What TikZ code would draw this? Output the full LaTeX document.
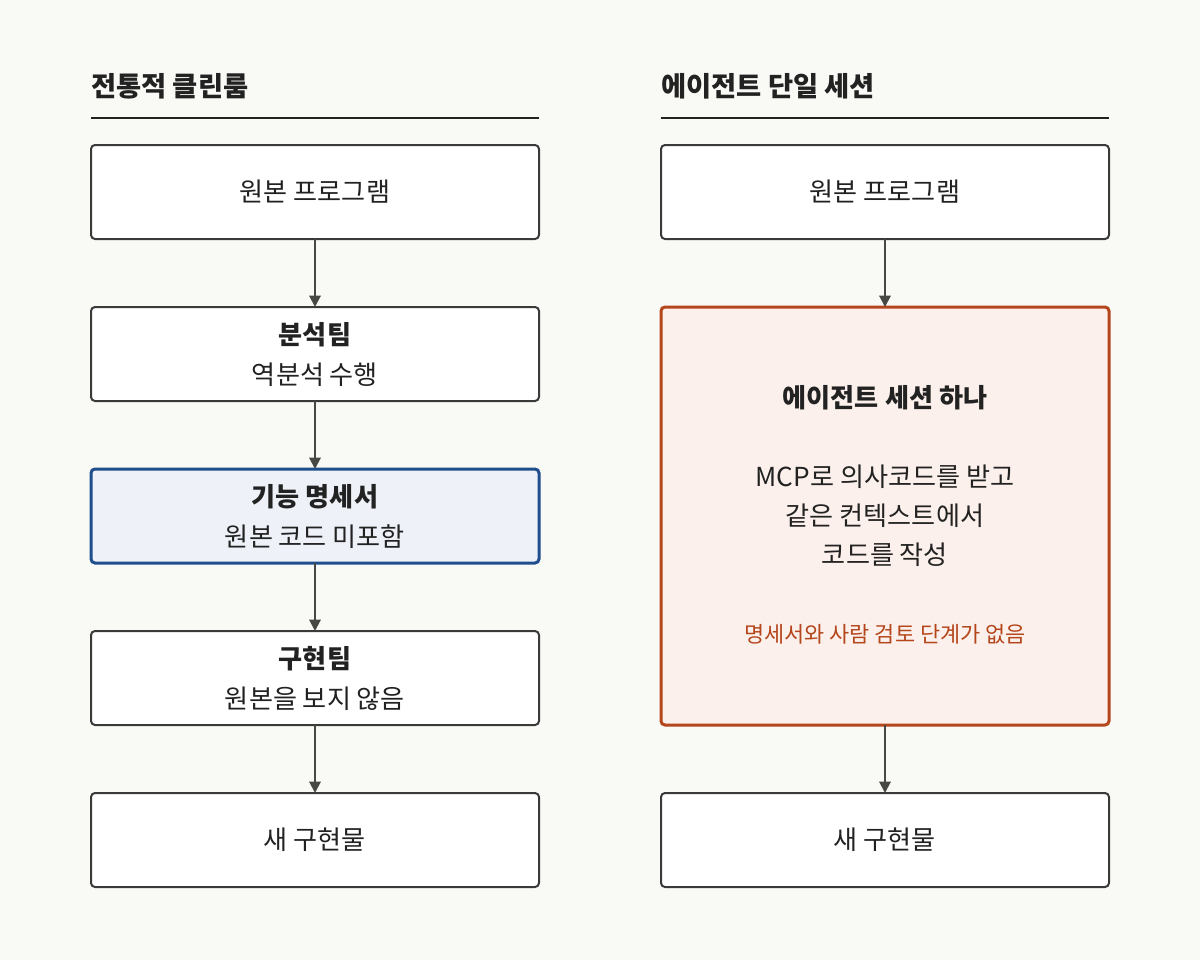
\documentclass[tikz,border=0pt]{standalone}
\usepackage{fontspec}
\setmainfont{Noto Sans CJK KR}
\usepackage{tikz}
\usetikzlibrary{arrows.meta,positioning,calc}
\usepackage{xcolor}
\definecolor{pagebg}{HTML}{F9F9F5}
\definecolor{inkdark}{HTML}{222222}
\definecolor{boxline}{HTML}{3A3A3A}
\definecolor{arrowgray}{HTML}{474744}
\definecolor{specblue}{HTML}{1F4E8C}
\definecolor{specfill}{HTML}{EEF2F8}
\definecolor{agentrust}{HTML}{B5451B}
\definecolor{agentfill}{HTML}{FBF0EB}

\begin{document}
\begin{tikzpicture}[
  x=0.75pt, y=-0.75pt,
  >={Triangle[length=8.5pt,width=8.5pt]},
  node distance=51pt,
  stage/.style={
    draw=boxline,
    fill=white,
    rounded corners=3pt,
    line width=1.5pt,
    minimum width=336pt,
    minimum height=70.5pt,
    inner sep=0pt,
    outer sep=0pt,
    align=center,
    text=inkdark,
    font=\fontsize{19.6}{30}\selectfont
  },
  accent/.style={line width=2.25pt},
  coltitle/.style={anchor=base west, inner sep=0pt, text=inkdark, font=\fontsize{20.5}{24}\selectfont\bfseries},
  flow/.style={->, line width=1.5pt, arrowgray}
]

  % page background
  \fill[pagebg] (0,0) rectangle (1200,960);

  % --- Column headers ---
  \node[coltitle] (ltitle) at (91,96) {전통적 클린룸};
  \node[coltitle] (rtitle) at (661,96) {에이전트 단일 세션};
  \draw[line width=1.5pt, inkdark] (91,118) -- (539,118);
  \draw[line width=1.5pt, inkdark] (661,118) -- (1109,118);

  % --- LEFT: traditional clean room ---
  \node[stage] (l1) at (315,192) {원본 프로그램};
  \node[stage, below=of l1] (l2) {{\bfseries 분석팀}\\역분석 수행};
  \node[stage, accent, below=of l2, draw=specblue, fill=specfill] (l3) {{\bfseries 기능 명세서}\\원본 코드 미포함};
  \node[stage, below=of l3] (l4) {{\bfseries 구현팀}\\원본을 보지 않음};
  \node[stage, below=of l4] (l5) {새 구현물};

  % --- RIGHT: single agent session ---
  \node[stage] (r1) at (885,192) {원본 프로그램};
  \node[stage, accent, below=of r1, draw=agentrust, fill=agentfill, minimum height=313.5pt] (r2) {};
  \node[stage, below=of r2] (r3) {새 구현물};

  \node[font=\fontsize{19.6}{24}\selectfont\bfseries, text=inkdark] (r2head) at ($(r2.center)+(0,-118)$) {에이전트 세션 하나};
  \node[font=\fontsize{19.6}{29.25}\selectfont, text=inkdark, align=center] (r2body) at (r2.center) {MCP로 의사코드를 받고\\같은 컨텍스트에서\\코드를 작성};
  \node[font=\fontsize{16.4}{20}\selectfont, text=agentrust] (r2note) at ($(r2.center)+(0,118)$) {명세서와 사람 검토 단계가 없음};

  % flow arrows
  \draw[flow] (l1) -- (l2);
  \draw[flow] (l2) -- (l3);
  \draw[flow] (l3) -- (l4);
  \draw[flow] (l4) -- (l5);
  \draw[flow] (r1) -- (r2);
  \draw[flow] (r2) -- (r3);

\end{tikzpicture}
\end{document}
